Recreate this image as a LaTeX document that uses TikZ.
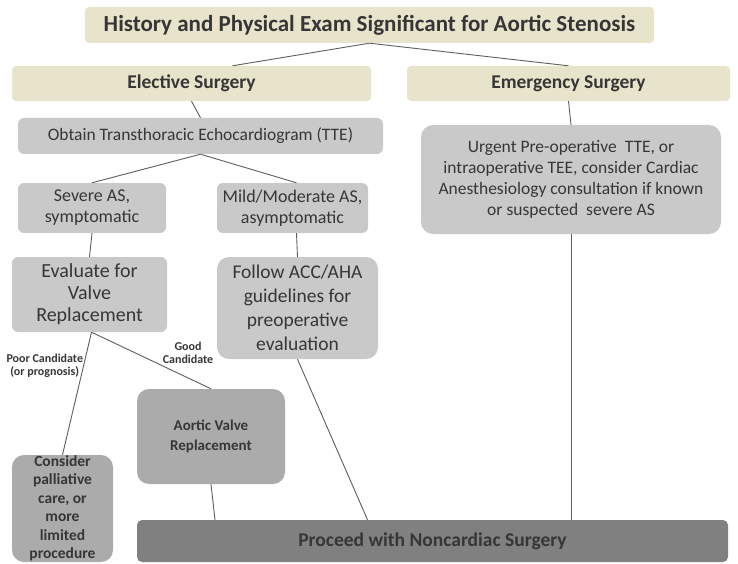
\documentclass[tikz,border=0pt]{standalone}
\usepackage{fontspec}
\setmainfont{Carlito}
\usetikzlibrary{calc}
\definecolor{ink}{HTML}{363636}
\definecolor{beige}{HTML}{E8E4CC}
\definecolor{boxGrey}{HTML}{C9C9C9}
\definecolor{midGrey}{HTML}{ABABAB}
\definecolor{darkGrey}{HTML}{808080}
\definecolor{lineGrey}{HTML}{5E5E5E}
\newcommand{\fs}[2]{\fontsize{#1}{#2}\selectfont}
\tikzset{
  every node/.append style = {text=ink},
  % --- boxes -------------------------------------------------------------
  beigebox/.style = {fill=beige, draw=none, rounded corners=4pt,
                     inner sep=0pt, align=center},
  greybox/.style  = {fill=boxGrey, draw=none, rounded corners=6pt,
                     inner sep=0pt, align=center},
  softbox/.style  = {greybox, rounded corners=12pt},
  midbox/.style   = {fill=midGrey, draw=none, rounded corners=12pt,
                     inner sep=0pt, align=center},
  finalbox/.style = {fill=darkGrey, draw=none, rounded corners=5pt,
                     inner sep=0pt, align=center},
  % --- relations ---------------------------------------------------------
  link/.style     = {draw=lineGrey, line width=0.9pt},
  % --- labels ------------------------------------------------------------
  candlbl/.style  = {font=\bfseries\fs{12}{13}, align=center},
}

\begin{document}
\begin{tikzpicture}[x=1pt, y=-1pt]
\useasboundingbox (0,0) rectangle (738,564);

% ============================ top level ====================================
\node[beigebox, minimum width=569, minimum height=36,
      font=\bfseries\fs{23}{26}] (hpe) at (369.5,25)
     {History and Physical Exam Significant for Aortic Stenosis};
\node[beigebox, minimum width=359, minimum height=35,
      font=\bfseries\fs{19.5}{22}] (elective) at (191.5,83.5)
     {Elective Surgery};
\node[beigebox, minimum width=323, minimum height=35,
      font=\bfseries\fs{19.5}{22}] (emergency) at (568.5,83.5)
     {Emergency Surgery};

% ============================ elective branch ==============================
\node[greybox, minimum width=365, minimum height=36,
      font=\fs{17.5}{21}] (tte) at (200.5,136)
     {Obtain Transthoracic Echocardiogram (TTE)};
\node[greybox, minimum width=148, minimum height=50,
      font=\fs{18}{21}] (severe) at (92,208)
     {Severe AS,\\symptomatic};
\node[greybox, minimum width=151, minimum height=50,
      font=\fs{18}{21}] (mild) at (292.5,208)
     {Mild/Moderate AS,\\asymptomatic};
\node[greybox, minimum width=155, minimum height=75,
      font=\fs{20}{22}] (evaluate) at (89.5,294.5)
     {Evaluate for\\Valve\\Replacement};
\node[softbox, minimum width=161, minimum height=102,
      font=\fs{19.5}{24}] (follow) at (297.5,308)
     {Follow ACC/AHA\\guidelines for\\preoperative\\evaluation};
\node[midbox, minimum width=148, minimum height=95,
      font=\bfseries\fs{15}{20}] (avr) at (211,436.5)
     {Aortic Valve\\Replacement};
\node[midbox, minimum width=101, minimum height=107,
      font=\bfseries\fs{15.5}{18.5}] (palliative) at (62.5,508.5)
     {Consider\\palliative\\care, or\\more\\limited\\procedure};

% ============================ emergency branch =============================
\node[softbox, minimum width=300, minimum height=109,
      font=\fs{17.5}{21}] (urgent) at (571,179.5)
     {Urgent Pre-operative\ \ TTE, or\\
      intraoperative TEE, consider Cardiac\\
      Anesthesiology consultation if known\\
      or suspected\ \ severe AS};

% ============================ final step ===================================
\node[finalbox, minimum width=591, minimum height=42,
      font=\bfseries\fs{19.5}{22}] (proceed) at (432.5,541)
     {Proceed with Noncardiac Surgery};

% ============================ connectors ===================================
\draw[link] (hpe.south) -- ([xshift=41]elective.north);
\draw[link] (hpe.south) -- (emergency.north);
\draw[link] (elective.south) -- (tte.north);
\draw[link] (emergency.south) -- (urgent.north);
\draw[link] (tte.south) -- (severe.north);
\draw[link] (tte.south) -- ([xshift=4]mild.north);
\draw[link] (severe.south) -- (evaluate.north);
\draw[link] ([xshift=4]mild.south) -- (follow.north);
\draw[link] ([xshift=2]evaluate.south) -- (palliative.north);
\draw[link] ([xshift=2]evaluate.south) -- (avr.north);
\draw[link] (avr.south) -- ([xshift=4]avr.south |- proceed.north);
\draw[link] (follow.south) -- ([xshift=70]follow.south |- proceed.north);
\draw[link] (urgent.south) -- (urgent.south |- proceed.north);

% ============================ branch labels ================================
\node[candlbl, anchor=west] (poor) at (3,366) {Poor Candidate\\(or prognosis)};
\node[candlbl] (good) at (188,353) {Good\\Candidate};

\end{tikzpicture}
\end{document}
